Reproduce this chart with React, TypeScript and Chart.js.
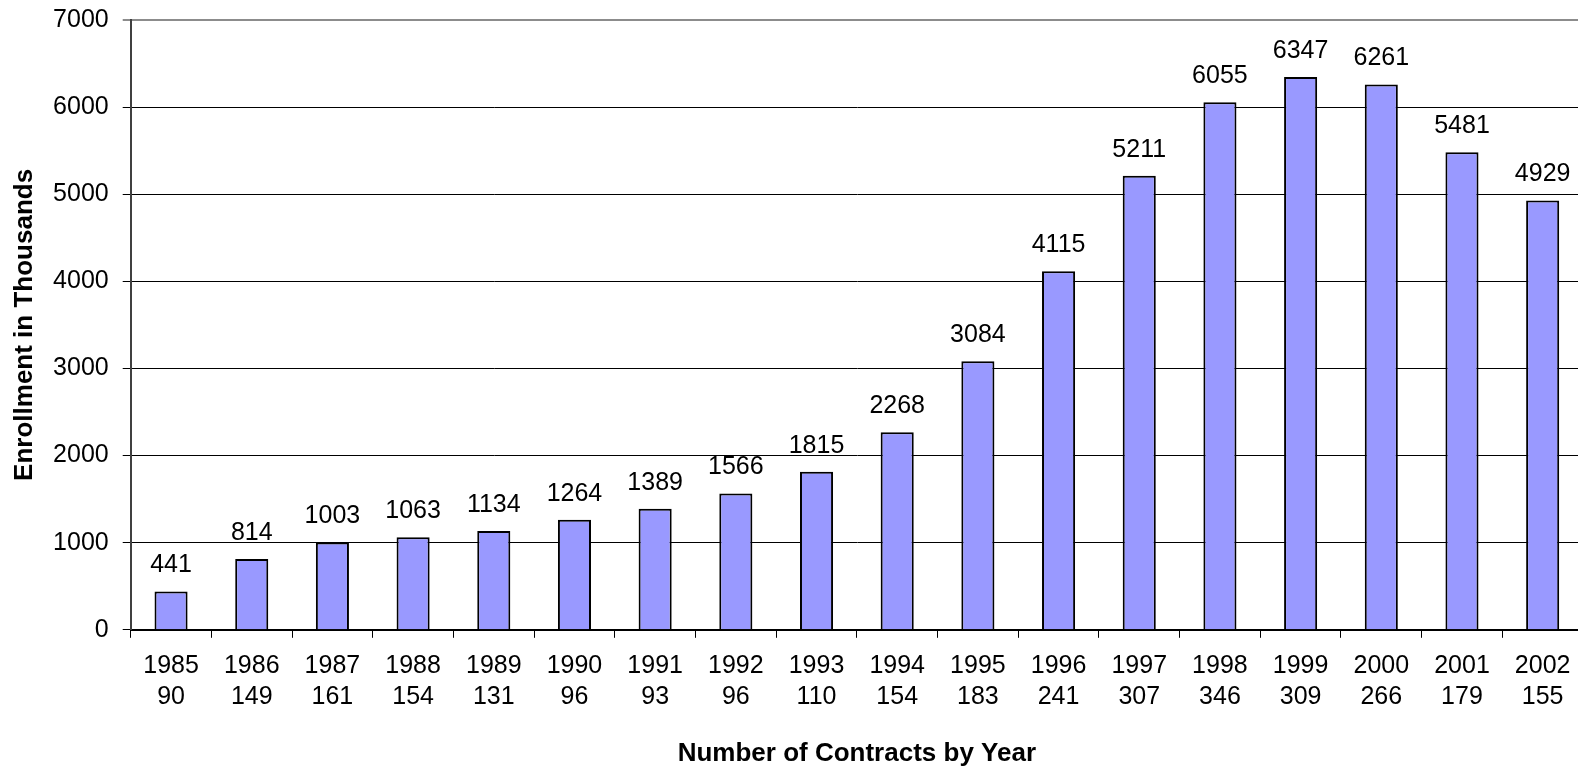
import React, { useEffect, useRef } from "react";
import { Chart, registerables } from "chart.js";

Chart.register(...registerables);

const years = [
  "1985", "1986", "1987", "1988", "1989", "1990", "1991", "1992", "1993",
  "1994", "1995", "1996", "1997", "1998", "1999", "2000", "2001", "2002",
];
const contracts = [
  90, 149, 161, 154, 131, 96, 93, 96, 110,
  154, 183, 241, 307, 346, 309, 266, 179, 155,
];
const enrollment = [
  441, 814, 1003, 1063, 1134, 1264, 1389, 1566, 1815,
  2268, 3084, 4115, 5211, 6055, 6347, 6261, 5481, 4929,
];
const yTicks = [0, 1000, 2000, 3000, 4000, 5000, 6000, 7000];

const FONT = "'Liberation Sans', Arial, Helvetica, sans-serif";

// Writes each bar's value just above it
const valueLabels = {
  id: "valueLabels",
  afterDatasetsDraw(chart: any) {
    const { ctx } = chart;
    const meta = chart.getDatasetMeta(0);
    ctx.save();
    ctx.font = `25px ${FONT}`;
    ctx.fillStyle = "#000";
    ctx.textAlign = "center";
    ctx.textBaseline = "alphabetic";
    meta.data.forEach((bar: any, i: number) => {
      ctx.fillText(String(enrollment[i]), bar.x, bar.y - 19);
    });
    ctx.restore();
  },
};

export default function App() {
  const canvasRef = useRef<HTMLCanvasElement>(null);

  useEffect(() => {
    if (!canvasRef.current) return;
    const labels = years.map((y, i) => [y, String(contracts[i])]);
    const chart = new Chart(canvasRef.current, {
      type: "bar",
      data: {
        labels,
        datasets: [
          {
            data: enrollment,
            backgroundColor: "#9999FF",
            borderColor: "#000000",
            borderWidth: 2,
            barPercentage: 0.41,
            categoryPercentage: 1,
          },
        ],
      },
      options: {
        animation: false,
        responsive: false,
        maintainAspectRatio: false,
        layout: { padding: { top: 20, right: 1, left: 0, bottom: 0 } },
        plugins: {
          legend: { display: false },
          tooltip: { enabled: false },
        },
        scales: {
          x: {
            offset: true,
            grid: {
              display: true,
              drawOnChartArea: false,
              drawTicks: true,
              tickLength: 8,
              offset: true,
              color: "#000",
              lineWidth: 1,
            },
            border: { display: true, color: "#000", width: 2 },
            ticks: {
              color: "#000",
              padding: 13,
              maxRotation: 0,
              autoSkip: false,
              font: { family: FONT, size: 25, lineHeight: 1.24 },
            },
            title: {
              display: true,
              text: "Number of Contracts by Year",
              color: "#000",
              font: { family: FONT, size: 26, weight: "bold", lineHeight: 1.2 },
              padding: { top: 12, bottom: 3 },
            },
          },
          y: {
            min: 0,
            max: 7000,
            afterBuildTicks: (axis: any) => {
              axis.ticks = yTicks.map((v) => ({ value: v }));
            },
            afterFit: (axis: any) => {
              axis.paddingTop = 0;
              axis.paddingBottom = 0;
            },
            grid: {
              drawTicks: true,
              tickLength: 8,
              color: (c: any) => (c.tick && c.tick.value === 7000 ? "#8c8c8c" : "#000"),
              lineWidth: (c: any) => (c.tick && c.tick.value === 7000 ? 2 : 1),
            },
            border: { display: true, color: "#404040", width: 2 },
            ticks: {
              color: "#000",
              padding: 14,
              font: { family: FONT, size: 25 },
              callback: (v: any) => String(v),
            },
            title: {
              display: true,
              text: "Enrollment in Thousands",
              color: "#000",
              font: { family: FONT, size: 26, weight: "bold", lineHeight: 1.1 },
              padding: { top: 10.5, bottom: 0 },
            },
          },
        },
      },
      plugins: [valueLabels],
    });
    return () => chart.destroy();
  }, []);

  return (
    <div
      style={{
        position: "fixed",
        left: 0,
        top: 0,
        width: 1578,
        height: 772,
        overflow: "hidden",
        background: "#fff",
      }}
    >
      <canvas
        ref={canvasRef}
        width={1584}
        height={772}
        style={{ display: "block", width: 1584, height: 772 }}
      />
    </div>
  );
}
